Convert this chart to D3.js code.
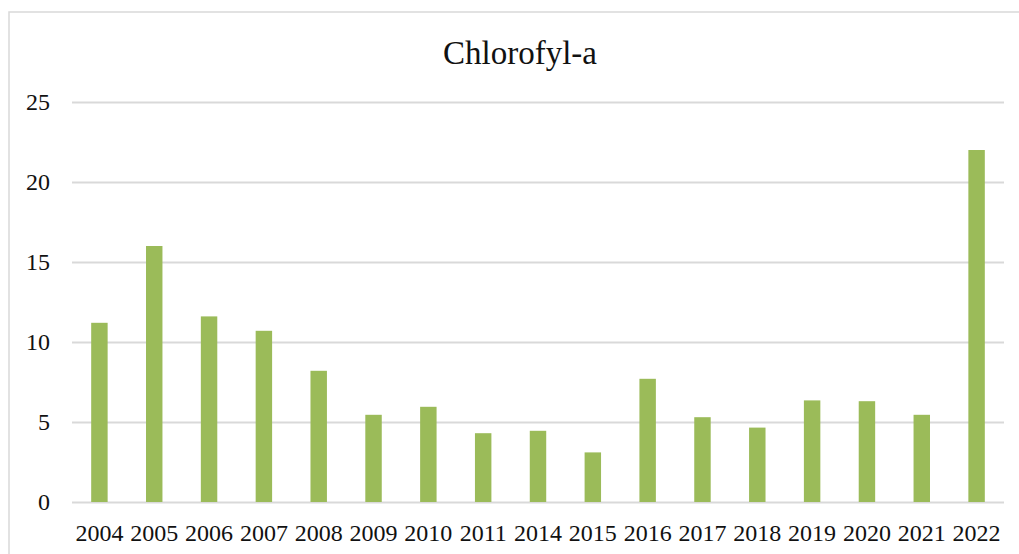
<!DOCTYPE html>
<html>
<head>
<meta charset="utf-8">
<script src="https://cdn.jsdelivr.net/npm/d3@7"></script>
<style>
  html, body { margin: 0; padding: 0; background: #fff; }
  svg { display: block; }
</style>
</head>
<body>
<div id="chart"></div>
<script>
var years = ['2004','2005','2006','2007','2008','2009','2010','2011','2014','2015','2016','2017','2018','2019','2020','2021','2022'];
var chlorofyl = [11.2, 16.0, 11.6, 10.7, 8.2, 5.45, 5.95, 4.3, 4.45, 3.1, 7.7, 5.3, 4.65, 6.35, 6.3, 5.45, 22.0];
var yTicks = [0, 5, 10, 15, 20, 25];
var title = 'Chlorofyl-a';

(function() {
    'use strict';

    var width = 1019,
        height = 554,
        margin = {top: 102, right: 15, bottom: 52, left: 72};

    var svg = d3.select('#chart').append('svg')
        .attr('width', width)
        .attr('height', height);

    // chart area border (runs off the right and bottom edges)
    svg.append('rect')
        .attr('x', 9)
        .attr('y', 12)
        .attr('width', width + 20)
        .attr('height', height + 20)
        .attr('fill', '#fff')
        .attr('stroke', '#d9d9d9')
        .attr('stroke-width', 1.5);

    var x = d3.scaleBand()
        .domain(years)
        .range([margin.left, width - margin.right])
        .paddingInner(0.7)
        .paddingOuter(0.35);

    var y = d3.scaleLinear()
        .domain([0, 25])
        .range([height - margin.bottom, margin.top]);

    // gridlines
    svg.append('g')
        .attr('transform', 'translate(' + margin.left + ',0)')
        .call(d3.axisLeft(y).tickValues(yTicks).tickSize(-(width - margin.right - margin.left)).tickFormat(''))
        .call(function(g) {
            g.select('.domain').remove();
            g.selectAll('line').attr('stroke', '#d9d9d9').attr('stroke-width', 1.8);
        });

    // y labels
    svg.append('g')
        .attr('transform', 'translate(' + (margin.left - 22) + ',0)')
        .call(d3.axisLeft(y).tickValues(yTicks).tickSize(0).tickPadding(0))
        .call(function(g) {
            g.select('.domain').remove();
            g.selectAll('text')
                .attr('font-family', '"Liberation Serif", "Times New Roman", serif')
                .attr('font-size', '24px')
                .attr('fill', '#111');
        });

    // bars
    svg.selectAll('.bar')
        .data(chlorofyl)
      .enter().append('rect')
        .attr('class', 'bar')
        .attr('x', function(d, i) { return x(years[i]); })
        .attr('y', function(d) { return y(d); })
        .attr('width', x.bandwidth())
        .attr('height', function(d) { return y(0) - y(d); })
        .attr('fill', '#9bbb59');

    // x labels
    svg.append('g')
        .attr('transform', 'translate(0,' + (height - margin.bottom) + ')')
        .call(d3.axisBottom(x).tickSize(0).tickPadding(22))
        .call(function(g) {
            g.select('.domain').remove();
            g.selectAll('text')
                .attr('font-family', '"Liberation Serif", "Times New Roman", serif')
                .attr('font-size', '24px')
                .attr('fill', '#111');
        });

    svg.append('text')
        .attr('x', 520)
        .attr('y', 64)
        .attr('text-anchor', 'middle')
        .attr('font-family', '"Liberation Serif", "Times New Roman", serif')
        .attr('font-size', '33px')
        .attr('fill', '#111')
        .text(title);
})();
</script>
</body>
</html>
